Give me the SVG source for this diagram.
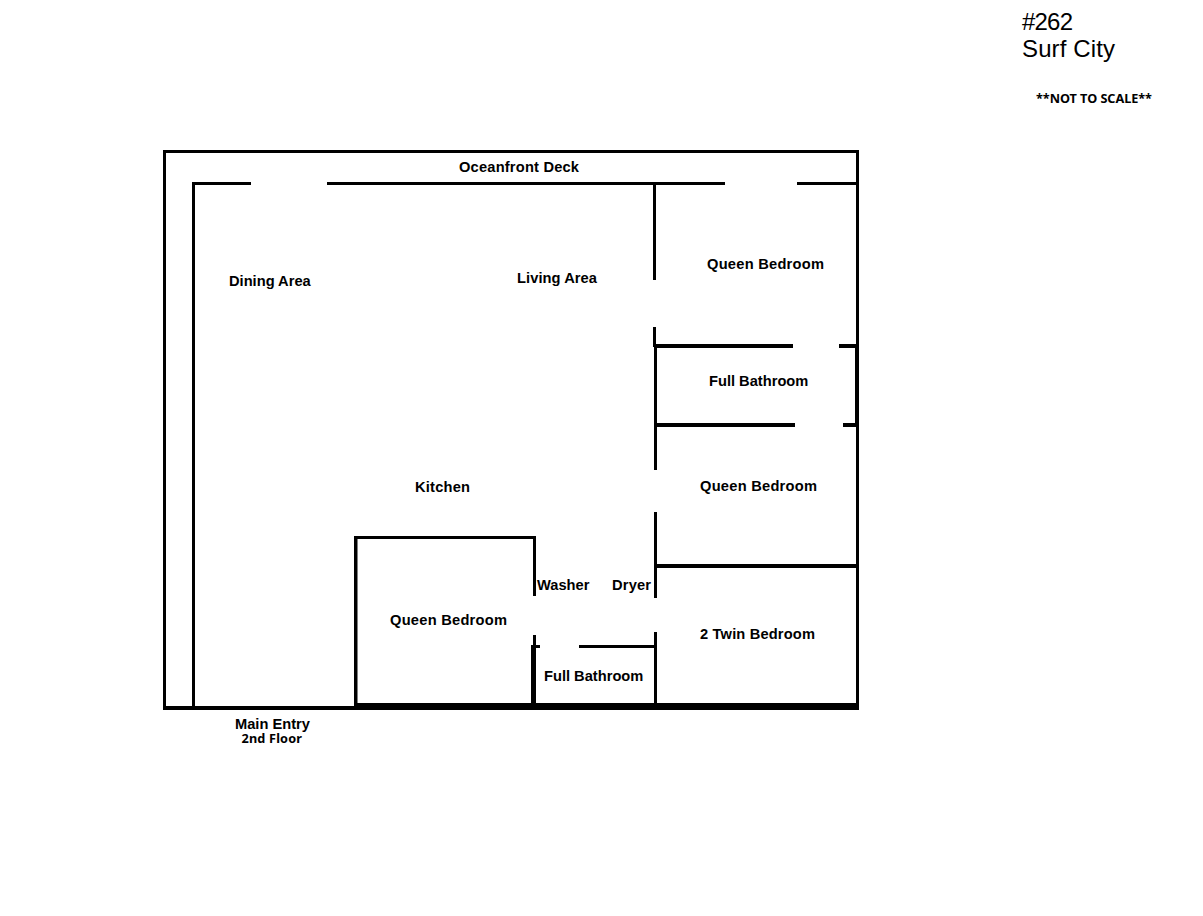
<svg xmlns="http://www.w3.org/2000/svg" width="1203" height="916" viewBox="0 0 1203 916">
<style>
.w{fill:#000}
text{font-family:"Liberation Sans",Arial,sans-serif;fill:#000}
.l{font-size:14.67px;font-weight:700}
.t{font-size:24px}
.s{font-family:"Noto Sans","DejaVu Sans",sans-serif;font-size:12.7px;font-weight:700}
</style>
<rect width="1203" height="916" fill="#fff"/>
<g id="walls" class="w">
<rect x="163" y="150" width="696" height="3"/>
<rect x="163" y="150" width="3" height="560"/>
<rect x="856" y="150" width="3" height="560"/>
<rect x="163" y="706" width="696" height="4"/>
<rect x="192" y="182" width="59" height="3"/>
<rect x="327" y="182" width="398" height="3"/>
<rect x="797" y="182" width="60" height="3"/>
<rect x="192" y="182" width="3" height="526"/>
<rect x="653" y="184" width="3" height="96"/>
<rect x="653" y="327" width="3" height="20"/>
<rect x="654" y="344" width="139" height="4"/>
<rect x="839" y="344" width="18" height="4"/>
<rect x="855" y="344" width="4" height="83"/>
<rect x="654" y="345" width="3" height="125"/>
<rect x="654" y="423" width="141" height="4"/>
<rect x="843" y="423" width="14" height="4"/>
<rect x="654" y="512" width="3" height="86"/>
<rect x="655" y="564" width="202" height="4"/>
<rect x="654" y="632" width="3" height="76"/>
<rect x="579" y="645" width="76" height="3"/>
<rect x="532" y="645" width="8" height="3"/>
<rect x="531" y="645" width="5" height="63"/>
<rect x="533" y="635" width="3" height="12"/>
<rect x="533" y="537" width="3" height="59"/>
<rect x="354" y="536" width="182" height="3"/>
<rect x="354" y="536" width="3.5" height="172"/>
<rect x="354" y="703" width="505" height="7"/>
</g>
<g id="labels">
<text class="l" x="459" y="172" textLength="120">Oceanfront Deck</text>
<text class="l" x="229" y="286">Dining Area</text>
<text class="l" x="517" y="283" textLength="80">Living Area</text>
<text class="l" x="707" y="269" textLength="117">Queen Bedroom</text>
<text class="l" x="709" y="386">Full Bathroom</text>
<text class="l" x="700" y="491" textLength="117">Queen Bedroom</text>
<text class="l" x="415" y="492" textLength="55">Kitchen</text>
<text class="l" x="537" y="590">Washer</text>
<text class="l" x="612" y="590" textLength="39">Dryer</text>
<text class="l" x="700" y="639" textLength="115">2 Twin Bedroom</text>
<text class="l" x="390" y="625" textLength="117">Queen Bedroom</text>
<text class="l" x="544" y="681">Full Bathroom</text>
<text class="l" x="235" y="729">Main Entry</text>
<text class="s" x="241.500" y="743" textLength="60.500">2nd Floor</text>
<text class="t" x="1022" y="30" textLength="51">#262</text>
<text class="t" x="1022" y="57" textLength="93">Surf City</text>
<text class="s" x="1036" y="103" textLength="116">**NOT TO SCALE**</text>
</g>
</svg>
